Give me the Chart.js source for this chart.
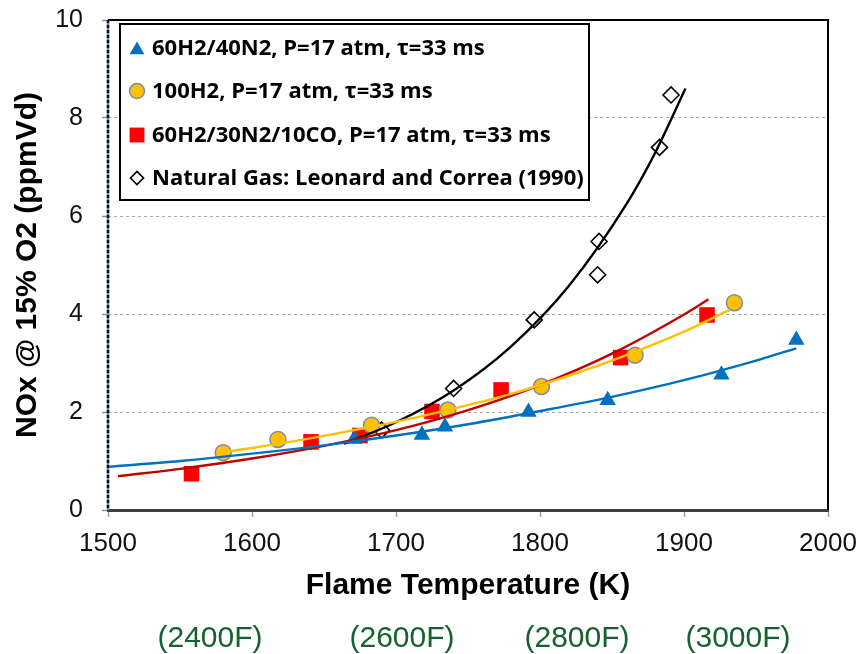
<!DOCTYPE html>
<html>
<head>
<meta charset="utf-8">
<script src="https://cdn.jsdelivr.net/npm/chart.js@4.4.1/dist/chart.umd.min.js"></script>
<style>
html,body{margin:0;padding:0;background:#fff;}
#wrap{position:relative;width:862px;height:654px;overflow:hidden;}
#c{position:absolute;left:0;top:0;}
.f{position:absolute;top:637px;font-size:30px;font-family:'Liberation Sans Narrow','Liberation Sans',sans-serif;color:#17602F;transform:translate(-50%,-50%);white-space:nowrap;line-height:1;}
</style>
</head>
<body>
<div id="wrap">
<canvas id="c" width="862" height="654"></canvas>
<div class="f" style="left:210px">(2400F)</div>
<div class="f" style="left:402px">(2600F)</div>
<div class="f" style="left:577px">(2800F)</div>
<div class="f" style="left:738px">(3000F)</div>
</div>
<script>
// ---- data ----
const xTickValues = [1500, 1600, 1700, 1800, 1900, 2000];
const yTickValues = [0, 2, 4, 6, 8, 10];
const fahrenheitLabels = ['(2400F)', '(2600F)', '(2800F)', '(3000F)'];

const seriesLabels = [
  '60H2/40N2, P=17 atm, \u03c4=33 ms',
  '100H2, P=17 atm, \u03c4=33 ms',
  '60H2/30N2/10CO, P=17 atm, \u03c4=33 ms',
  'Natural Gas: Leonard and Correa (1990)'
];

// 60H2/40N2 measurements
const h2n2Temp = [1671, 1718, 1734, 1792, 1847, 1926, 1978];
const h2n2NOx  = [1.45, 1.53, 1.70, 2.00, 2.24, 2.76, 3.47];
// 100H2 measurements
const h2Temp = [1580, 1618, 1683, 1736, 1801, 1866, 1935];
const h2NOx  = [1.17, 1.44, 1.73, 2.04, 2.52, 3.16, 4.23];
// 60H2/30N2/10CO measurements
const coTemp = [1558, 1641, 1675, 1725, 1773, 1856, 1916];
const coNOx  = [0.74, 1.39, 1.52, 2.01, 2.45, 3.11, 3.98];
// Natural gas (Leonard and Correa 1990)
const ngTemp = [1690, 1740, 1796, 1840, 1841, 1883, 1891];
const ngNOx  = [1.63, 2.48, 3.88, 4.80, 5.48, 7.40, 8.47];

// trend lines
const h2n2FitTemp = [1500, 1550, 1600, 1650, 1700, 1750, 1800, 1850, 1900, 1950, 1978];
const h2n2FitNOx  = [0.88, 1.00, 1.15, 1.32, 1.52, 1.75, 2.02, 2.31, 2.65, 3.05, 3.30];
const h2FitTemp = [1580, 1620, 1660, 1700, 1740, 1780, 1820, 1860, 1900, 1932];
const h2FitNOx  = [1.18, 1.36, 1.57, 1.80, 2.07, 2.37, 2.74, 3.16, 3.64, 4.09];
const coFitTemp = [1507, 1550, 1600, 1650, 1700, 1750, 1800, 1850, 1900, 1917];
const coFitNOx  = [0.69, 0.84, 1.05, 1.31, 1.63, 2.04, 2.55, 3.19, 3.99, 4.30];
const ngFitTemp = [1664, 1700, 1740, 1780, 1820, 1860, 1880, 1901];
const ngFitNOx  = [1.35, 1.79, 2.44, 3.34, 4.57, 6.24, 7.29, 8.60];

const pts = (xs, ys) => xs.map((x, i) => ({x: x, y: ys[i]}));

// ---- styles ----
const BLUE = '#0070C0', YELLOW = '#FFC000', RED = '#FF0000', DARKRED = '#C00000';

const markerSets = [
  {label: seriesLabels[0], data: pts(h2n2Temp, h2n2NOx), pointStyle: 'triangle', pointRadius: 9.5, backgroundColor: BLUE, borderColor: BLUE, pointBorderWidth: 0, legendR: 8.5},
  {label: seriesLabels[1], data: pts(h2Temp, h2NOx), pointStyle: 'circle', pointRadius: 8, backgroundColor: YELLOW, borderColor: '#7A8CA8', pointBorderWidth: 1.5, legendR: 7.5},
  {label: seriesLabels[2], data: pts(coTemp, coNOx), pointStyle: 'rect', pointRadius: 11, backgroundColor: RED, borderColor: RED, pointBorderWidth: 0, legendR: 10.5},
  {label: seriesLabels[3], data: pts(ngTemp, ngNOx), pointStyle: 'rectRot', pointRadius: 8, backgroundColor: '#FFFFFF', borderColor: '#000000', pointBorderWidth: 1.6, legendR: 6.5}
];

const datasets = [];
markerSets.forEach(m => datasets.push({
  label: m.label, data: m.data, showLine: false, pointStyle: m.pointStyle,
  pointRadius: m.pointRadius, pointHoverRadius: m.pointRadius,
  pointBackgroundColor: m.backgroundColor, pointBorderColor: m.borderColor,
  pointBorderWidth: m.pointBorderWidth, order: 2, legendR: m.legendR
}));
const fits = [
  [h2n2FitTemp, h2n2FitNOx, BLUE],
  [h2FitTemp, h2FitNOx, YELLOW],
  [coFitTemp, coFitNOx, DARKRED],
  [ngFitTemp, ngFitNOx, '#000000']
];
fits.forEach(f => datasets.push({
  label: '', data: pts(f[0], f[1]), showLine: true, pointRadius: 0, pointHoverRadius: 0,
  borderColor: f[2], borderWidth: 2.4, cubicInterpolationMode: 'monotone', fill: false, order: 1, isFit: true
}));

const LEGEND_FONT_FAMILY = '"Open Sans", Lato, sans-serif';

const framePlugin = {
  id: 'frame',
  afterDatasetsDraw(chart) {
    const {ctx, chartArea: a} = chart;
    ctx.save();
    // top and right border
    ctx.strokeStyle = '#000';
    ctx.lineWidth = 2;
    ctx.beginPath();
    ctx.moveTo(a.left, a.top);
    ctx.lineTo(a.right, a.top);
    ctx.lineTo(a.right, a.bottom);
    ctx.stroke();
    // dashed left axis
    ctx.strokeStyle = '#6F84B8';
    ctx.lineWidth = 2.5;
    ctx.beginPath(); ctx.moveTo(a.left, a.top); ctx.lineTo(a.left, a.bottom); ctx.stroke();
    ctx.strokeStyle = '#0E1226';
    ctx.setLineDash([3, 2]);
    ctx.beginPath(); ctx.moveTo(a.left, a.top); ctx.lineTo(a.left, a.bottom); ctx.stroke();
    ctx.setLineDash([]);

    // legend box
    const bx = 120, by = 24, bw = 469, bh = 176;
    ctx.fillStyle = '#fff';
    ctx.fillRect(bx, by, bw, bh);
    ctx.strokeStyle = '#000';
    ctx.lineWidth = 2;
    ctx.strokeRect(bx, by, bw, bh);
    const rows = [48, 91, 135, 178];
    // size the legend font so that the longest entry spans the width seen in the figure
    ctx.font = 'bold 20px ' + LEGEND_FONT_FAMILY;
    const w = ctx.measureText(chart.data.datasets[3].label).width;
    const size = Math.min(24, Math.max(16, 20 * 432 / w));
    ctx.font = 'bold ' + size.toFixed(1) + 'px ' + LEGEND_FONT_FAMILY;
    ctx.textBaseline = 'middle';
    ctx.textAlign = 'left';
    for (let i = 0; i < 4; i++) {
      const ds = chart.data.datasets[i];
      ctx.save();
      ctx.fillStyle = ds.pointBackgroundColor;
      ctx.strokeStyle = ds.pointBorderColor;
      ctx.lineWidth = ds.pointBorderWidth;
      Chart.helpers.drawPoint(ctx, {pointStyle: ds.pointStyle, radius: ds.legendR, rotation: 0, borderWidth: ds.pointBorderWidth}, 137, rows[i] + (ds.pointStyle === 'triangle' ? 2 : 0));
      ctx.restore();
      ctx.fillStyle = '#000';
      ctx.fillText(ds.label, 152, rows[i] + 1);
    }
    ctx.restore();
  }
};

const numLabel = v => String(v);

new Chart(document.getElementById('c'), {
  type: 'scatter',
  data: {datasets: datasets},
  options: {
    responsive: false,
    animation: false,
    events: [],
    layout: {padding: {top: 20, right: 34, left: 0, bottom: 0}},
    plugins: {legend: {display: false}, tooltip: {enabled: false}},
    scales: {
      x: {
        type: 'linear', min: 1500, max: 2000,
        afterFit: s => { s.height = 144; s.paddingLeft = 0; s.paddingRight = 0; },
        afterBuildTicks: s => { s.ticks = xTickValues.map(v => ({value: v})); },
        ticks: {font: {family: 'Liberation Sans, Arial, sans-serif', size: 26}, color: '#111', padding: 11, maxRotation: 0, callback: numLabel},
        grid: {drawOnChartArea: false, drawTicks: true, tickLength: 7, tickColor: '#A0A0A0', tickWidth: 1.5},
        border: {display: true, color: '#3F3F3F', width: 3},
        title: {display: true, text: 'Flame Temperature (K)', color: '#000',
          font: {family: 'Liberation Sans, Arial, sans-serif', size: 30, weight: 'bold'}, padding: {top: 0, bottom: 50}}
      },
      y: {
        type: 'linear', min: 0, max: 10,
        afterFit: s => { s.width = 108; s.paddingTop = 0; s.paddingBottom = 0; },
        afterBuildTicks: s => { s.ticks = yTickValues.map(v => ({value: v})); },
        ticks: {font: {family: 'Liberation Sans, Arial, sans-serif', size: 25}, color: '#111', padding: 19, callback: numLabel},
        grid: {
          color: c => (c.tick && (c.tick.value === 0 || c.tick.value === 10)) ? 'rgba(0,0,0,0)' : '#A8A8A8',
          lineWidth: 1, drawTicks: true, tickLength: 6, tickColor: '#909090', tickWidth: 1.5
        },
        border: {display: false, dash: [3, 3]},
        title: {display: true, text: 'NOx @ 15% O2 (ppmVd)', color: '#000',
          font: {family: 'Liberation Sans, Arial, sans-serif', size: 30, weight: 'bold'}, padding: {top: 10, bottom: 0}}
      }
    }
  },
  plugins: [framePlugin]
});
</script>
</body>
</html>
